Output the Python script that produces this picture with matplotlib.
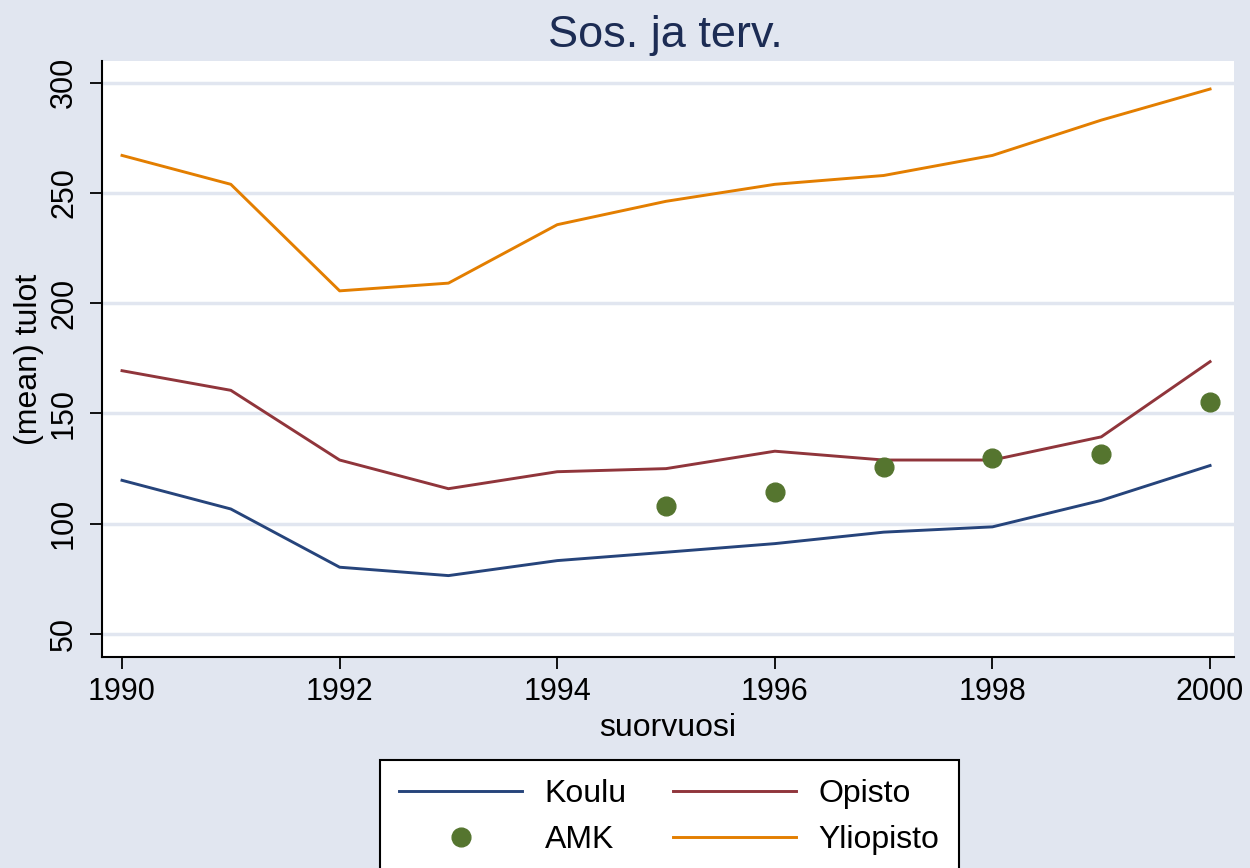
import numpy as np
import matplotlib
matplotlib.use("Agg")
from matplotlib import pyplot as plt

plt.rcParams['font.family'] = ['Liberation Sans', 'DejaVu Sans']

# mean income by year, Sos. ja terv.
years = [1990, 1991, 1992, 1993, 1994, 1995, 1996, 1997, 1998, 1999, 2000]
koulu = [119.7, 106.7, 80.3, 76.5, 83.3, 87.1, 91.0, 96.2, 98.6, 110.6, 126.4]
opisto = [169.4, 160.5, 128.9, 115.9, 123.6, 125.0, 132.9, 128.9, 128.9, 139.4, 173.5]
amk_years = [1995, 1996, 1997, 1998, 1999, 2000]
amk = [108.0, 114.5, 125.7, 129.7, 131.6, 155.3]
yliopisto = [267.0, 253.9, 205.6, 209.1, 235.6, 246.2, 253.9, 257.9, 267.0, 283.0, 297.1]

xticks = [1990, 1992, 1994, 1996, 1998, 2000]
yticks = [50, 100, 150, 200, 250, 300]

bg = "#E1E6F0"
fs_tick = 22
fs = 23

fig = plt.figure(figsize=(12.5, 8.68), dpi=100)
fig.patch.set_facecolor(bg)
ax = fig.add_axes([0.0816, 0.2431, 0.9056, 0.6866])
ax.set_facecolor("white")

l1, = ax.plot(years, koulu, color="#26447B", lw=2.1, label="Koulu")
l2, = ax.plot(years, opisto, color="#90353B", lw=2.1, label="Opisto")
l3, = ax.plot(amk_years, amk, "o", color="#55752F", ms=13.5, mec="#55752F", label="AMK", ls="none")
l4, = ax.plot(years, yliopisto, color="#E37E00", lw=2.1, label="Yliopisto")

ax.set_xlim(1989.816, 2000.22)
ax.set_ylim(39.6, 309.8)
ax.set_xticks(xticks)
ax.set_yticks(yticks)
ax.set_yticklabels([str(t) for t in yticks], rotation=90, va="center")
ax.tick_params(axis="both", labelsize=fs_tick, length=8.5, width=1.3, colors="black")
ax.tick_params(axis="y", pad=8)
ax.tick_params(axis="x", pad=6)
ax.grid(axis="y", color=bg, lw=2.5)
ax.set_axisbelow(True)
for s in ["top", "right"]:
    ax.spines[s].set_visible(False)
for s in ["left", "bottom"]:
    ax.spines[s].set_linewidth(1.5)
    ax.spines[s].set_color("black")

ax.set_xlabel("suorvuosi", fontsize=fs, labelpad=4)
ax.set_ylabel("(mean) tulot", fontsize=fs, labelpad=4)

fig.text(0.532, 1 - 47 / 868, "Sos. ja terv.", fontsize=32.5, color="#1C2C54",
         ha="center", va="baseline")

# column-major fill, so order gives rows Koulu/Opisto and AMK/Yliopisto
leg = fig.legend([l1, l3, l2, l4], ["Koulu", "AMK", "Opisto", "Yliopisto"],
                 loc="upper center", bbox_to_anchor=(0.5356, 1 - 760 / 868), ncol=2,
                 fontsize=fs, frameon=True, fancybox=False, edgecolor="black",
                 handlelength=3.85, handletextpad=0.7, columnspacing=1.45,
                 labelspacing=0.5, borderpad=0.6, borderaxespad=0,
                 numpoints=1)
leg.get_frame().set_linewidth(1.5)
leg.get_frame().set_facecolor("white")
leg.get_frame().set_alpha(1)

fig.savefig("out.png", dpi=100, facecolor=bg)
